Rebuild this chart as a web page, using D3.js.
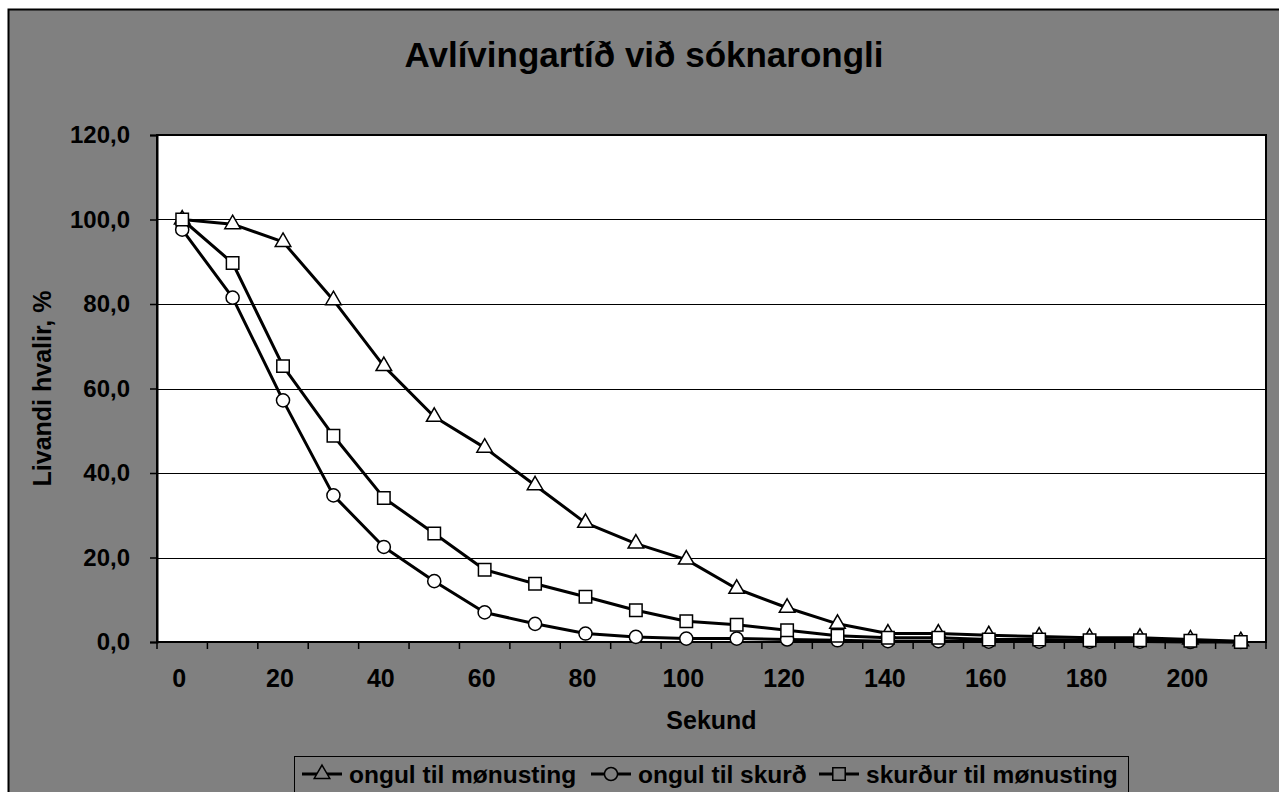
<!DOCTYPE html>
<html>
<head>
<meta charset="utf-8">
<script src="https://cdn.jsdelivr.net/npm/d3@7"></script>
<style>
  html, body { margin: 0; padding: 0; background: #fff; }
  svg { display: block; }
  text { font-family: "Liberation Sans", Arial, sans-serif; font-weight: bold; fill: #000; }
</style>
</head>
<body>
<div id="chart"></div>
<script>
// chart values
const seconds = [0, 10, 20, 30, 40, 50, 60, 70, 80, 90, 100, 110, 120, 130, 140, 150, 160, 170, 180, 190, 200, 210];
const ongulTilMonusting = [100, 98.9, 94.7, 80.9, 65.3, 53.3, 46.0, 37.1, 28.2, 23.3, 19.5, 12.6, 8.1, 4.3, 2.0, 2.0, 1.6, 1.3, 1.0, 1.0, 0.6, 0.2];
const ongulTilSkurd = [97.6, 81.5, 57.2, 34.7, 22.5, 14.4, 7.0, 4.3, 2.0, 1.2, 0.8, 0.8, 0.6, 0.4, 0.2, 0.2, 0.1, 0.1, 0.1, 0.1, 0.0, 0.0];
const skurdurTilMonusting = [100, 89.7, 65.3, 48.8, 34.1, 25.7, 17.1, 13.8, 10.7, 7.5, 4.9, 4.1, 2.8, 1.5, 1.0, 1.0, 0.6, 0.6, 0.4, 0.4, 0.3, 0.0];
const seriesNames = ['ongul til mønusting', 'ongul til skurð', 'skurður til mønusting'];
const seriesMarkers = ['triangle', 'circle', 'square'];
const yTicks = [0, 20, 40, 60, 80, 100, 120];
const xLabels = [0, 20, 40, 60, 80, 100, 120, 140, 160, 180, 200];

const title = 'Avlívingartíð við sóknarongli';
const xTitle = 'Sekund';
const yTitle = 'Livandi hvalir, %';

const width = 1279, height = 792;
const plot = { left: 157, right: 1266, top: 135, bottom: 642 };

const svg = d3.select('#chart').append('svg')
  .attr('width', width)
  .attr('height', height);

// grey chart area with its border
svg.append('rect')
  .attr('x', 8.5).attr('y', 9.5)
  .attr('width', 1290).attr('height', 800)
  .attr('fill', '#808080')
  .attr('stroke', '#000')
  .attr('stroke-width', 2);

svg.append('text')
  .attr('x', 644).attr('y', 67)
  .attr('text-anchor', 'middle')
  .style('font-size', '35px')
  .text(title);

const x = d3.scaleBand().domain(seconds).range([plot.left, plot.right]);
const y = d3.scaleLinear().domain([0, 120]).range([plot.bottom, plot.top]);
const cx = d => x(d) + x.bandwidth() / 2;

// plot area
svg.append('rect')
  .attr('x', plot.left).attr('y', plot.top)
  .attr('width', plot.right - plot.left).attr('height', plot.bottom - plot.top)
  .attr('fill', '#fff');

svg.append('g')
  .selectAll('line')
  .data(yTicks.slice(1, -1))
  .join('line')
  .attr('x1', plot.left).attr('x2', plot.right)
  .attr('y1', d => Math.round(y(d)) + 0.5).attr('y2', d => Math.round(y(d)) + 0.5)
  .attr('stroke', '#000')
  .attr('stroke-width', 1);

svg.append('rect')
  .attr('x', plot.left).attr('y', plot.top)
  .attr('width', plot.right - plot.left).attr('height', plot.bottom - plot.top)
  .attr('fill', 'none')
  .attr('stroke', '#000')
  .attr('stroke-width', 2);

// y axis
const yAxis = d3.axisLeft(y)
  .tickValues(yTicks)
  .tickSize(7)
  .tickPadding(20)
  .tickFormat(d => d3.format('.1f')(d).replace('.', ','));
const gy = svg.append('g')
  .attr('transform', `translate(${plot.left},0)`)
  .call(yAxis);
gy.select('.domain').attr('stroke', '#000').attr('stroke-width', 2);
gy.selectAll('.tick line').attr('stroke', '#000').attr('stroke-width', 1.5);
gy.selectAll('.tick text')
  .style('font-size', '24px')
  .style('font-family', '"Liberation Sans", Arial, sans-serif')
  .style('font-weight', 'bold');

// x axis: ticks between the categories, labels on every other one
const gx = svg.append('g')
  .attr('transform', `translate(0,${plot.bottom})`);
gx.append('line')
  .attr('x1', plot.left).attr('x2', plot.right)
  .attr('stroke', '#000').attr('stroke-width', 2);
gx.selectAll('line.tick')
  .data(seconds.concat(['end']))
  .join('line')
  .attr('class', 'tick')
  .attr('x1', d => d === 'end' ? plot.right : x(d))
  .attr('x2', d => d === 'end' ? plot.right : x(d))
  .attr('y1', 0).attr('y2', 7)
  .attr('stroke', '#000').attr('stroke-width', 1.5);
gx.selectAll('text')
  .data(xLabels)
  .join('text')
  .attr('x', d => cx(d) - 3)
  .attr('y', 45)
  .attr('text-anchor', 'middle')
  .style('font-size', '25px')
  .text(d => d);

svg.append('text')
  .attr('x', (plot.left + plot.right) / 2).attr('y', 729)
  .attr('text-anchor', 'middle')
  .style('font-size', '25px')
  .text(xTitle);

svg.append('text')
  .attr('transform', `translate(51,${(plot.top + plot.bottom) / 2}) rotate(-90)`)
  .attr('text-anchor', 'middle')
  .style('font-size', '25px')
  .text(yTitle);

// series
const allSeries = [ongulTilMonusting, ongulTilSkurd, skurdurTilMonusting];
const symbols = {
  triangle: d3.symbol().type(d3.symbolTriangle).size(105),
  circle: d3.symbol().type(d3.symbolCircle).size(135),
  square: d3.symbol().type(d3.symbolSquare).size(155)
};
const line = d3.line()
  .x((d, i) => cx(seconds[i]))
  .y(d => y(d));

allSeries.forEach((vals, s) => {
  const g = svg.append('g');
  g.append('path')
    .attr('d', line(vals))
    .attr('fill', 'none')
    .attr('stroke', '#000')
    .attr('stroke-width', 3)
    .attr('stroke-linejoin', 'round');
  g.selectAll('path.marker')
    .data(vals)
    .join('path')
    .attr('class', 'marker')
    .attr('transform', (d, i) => `translate(${cx(seconds[i])},${y(d)})`)
    .attr('d', symbols[seriesMarkers[s]])
    .attr('fill', '#fff')
    .attr('stroke', '#000')
    .attr('stroke-width', 1.5);
});

// legend
const legend = svg.append('g');
legend.append('rect')
  .attr('x', 294.5).attr('y', 756.5)
  .attr('width', 834).attr('height', 40)
  .attr('fill', '#808080')
  .attr('stroke', '#000')
  .attr('stroke-width', 1);
const legendX = [302, 591, 819];
seriesNames.forEach((name, s) => {
  const item = legend.append('g').attr('transform', `translate(${legendX[s]},774)`);
  item.append('line')
    .attr('x1', 0).attr('x2', 40)
    .attr('stroke', '#000').attr('stroke-width', 3);
  item.append('path')
    .attr('transform', 'translate(20,0)')
    .attr('d', symbols[seriesMarkers[s]])
    .attr('fill', '#808080')
    .attr('stroke', '#000')
    .attr('stroke-width', 1.5);
  item.append('text')
    .attr('x', 47).attr('y', 8.5)
    .style('font-size', '24.5px')
    .text(name);
});
</script>
</body>
</html>
